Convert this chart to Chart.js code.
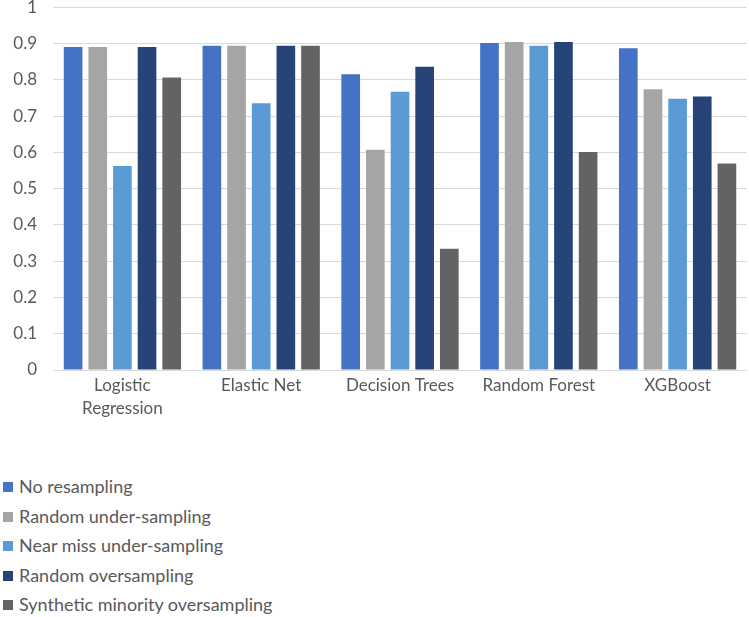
<!DOCTYPE html>
<html>
<head>
<meta charset="utf-8">
<script src="https://cdn.jsdelivr.net/npm/chart.js@4/dist/chart.umd.min.js"></script>
<style>
  html, body { margin: 0; padding: 0; background: #fff; overflow: hidden; }
  #wrap { position: absolute; left: 0; top: -19px; width: 749px; height: 443px; }
  #legend { position: absolute; left: 3px; top: 472px; font-family: Lato, sans-serif; font-size: 18px; color: #595959; }
  #legend .item { height: 29.5px; line-height: 29.5px; white-space: nowrap; }
  #legend .box { display: inline-block; width: 10px; height: 10px; margin-right: 6px; vertical-align: middle; position: relative; top: -1px; }
</style>
</head>
<body>
<div id="wrap"><canvas id="barChart"></canvas></div>
<div id="legend"></div>
<script>
var categories = [["Logistic", "Regression"], "Elastic Net", "Decision Trees", "Random Forest", "XGBoost"];
var seriesNames = ["No resampling", "Random under-sampling", "Near miss under-sampling", "Random oversampling", "Synthetic minority oversampling"];
var seriesColors = ["#4472C4", "#A5A5A5", "#5B9BD5", "#264478", "#636363"];
var yTickLabels = ["0", "0.1", "0.2", "0.3", "0.4", "0.5", "0.6", "0.7", "0.8", "0.9", "1"];

var noResampling   = [0.890, 0.894, 0.815, 0.901, 0.887];
var randomUnder    = [0.890, 0.894, 0.607, 0.904, 0.774];
var nearMissUnder  = [0.562, 0.735, 0.767, 0.894, 0.748];
var randomOver     = [0.890, 0.894, 0.836, 0.904, 0.754];
var smote          = [0.806, 0.894, 0.334, 0.601, 0.569];
var seriesValues = [noResampling, randomUnder, nearMissUnder, randomOver, smote];

var textColor = "#595959";
var fontFamily = "Lato, sans-serif";

var datasets = seriesNames.map(function (name, i) {
	return {
		label: name,
		data: seriesValues[i],
		backgroundColor: seriesColors[i],
		borderWidth: 0,
		barPercentage: 0.757,
		categoryPercentage: 0.888
	};
});

var ctx = document.getElementById("barChart").getContext("2d");
var chart = new Chart(ctx, {
	type: "bar",
	data: { labels: categories, datasets: datasets },
	options: {
		responsive: true,
		maintainAspectRatio: false,
		animation: false,
		layout: { padding: { top: 0, right: 2, bottom: 0, left: 0 } },
		plugins: {
			legend: { display: false },
			tooltip: { enabled: false }
		},
		scales: {
			x: {
				grid: { display: false, drawTicks: false },
				border: { display: false },
				ticks: {
					color: textColor,
					padding: 4,
					maxRotation: 0,
					autoSkip: false,
					font: { family: fontFamily, size: 17, lineHeight: 23 / 17 }
				}
			},
			y: {
				min: 0,
				max: 1,
				afterFit: function (scale) { scale.width = 53; },
				grid: { color: "#D9D9D9", lineWidth: 1, drawTicks: false },
				border: { display: false },
				ticks: {
					stepSize: 0.1,
					color: textColor,
					padding: 16,
					font: { family: fontFamily, size: 17 },
					callback: function (value, index) { return yTickLabels[index]; }
				}
			}
		}
	}
});

// vertical legend under the chart, built from the chart's datasets
var legendEl = document.getElementById("legend");
chart.data.datasets.forEach(function (ds) {
	var item = document.createElement("div");
	item.className = "item";
	var box = document.createElement("span");
	box.className = "box";
	box.style.background = ds.backgroundColor;
	item.appendChild(box);
	item.appendChild(document.createTextNode(ds.label));
	legendEl.appendChild(item);
});
</script>
</body>
</html>
